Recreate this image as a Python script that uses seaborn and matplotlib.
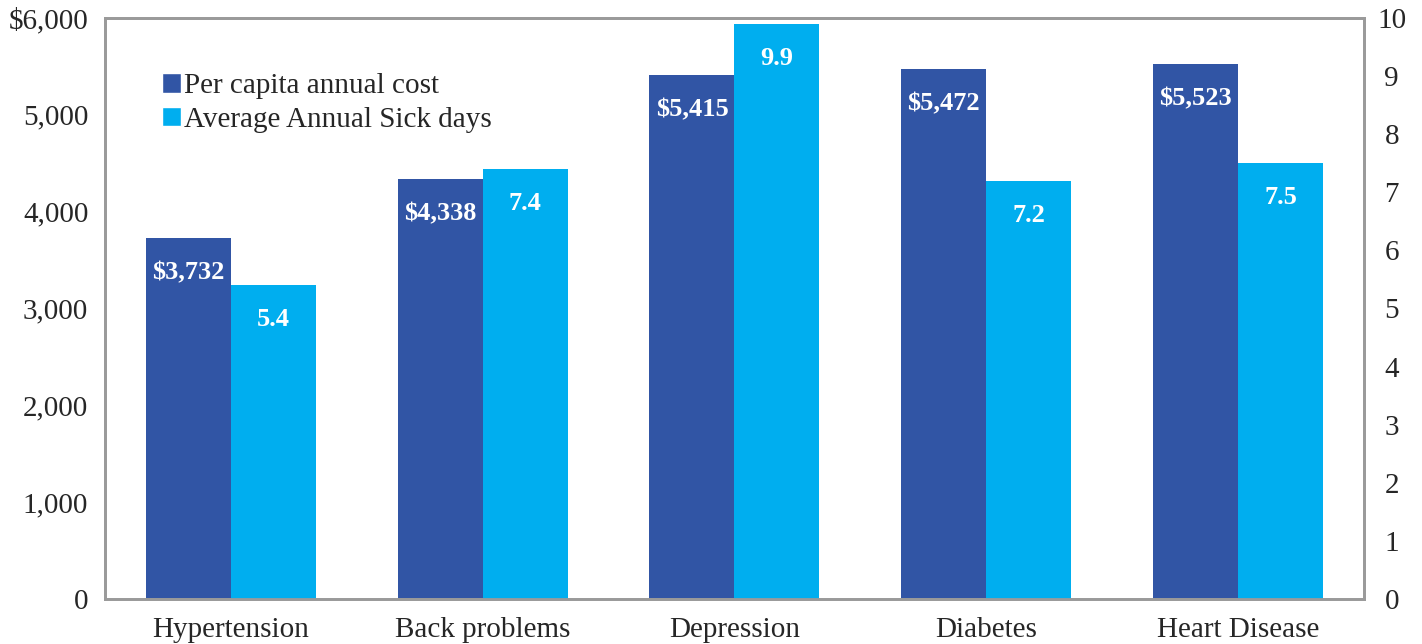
import matplotlib
matplotlib.use("Agg")
import matplotlib.pyplot as plt
from matplotlib.patches import Patch
from matplotlib.ticker import FuncFormatter
import pandas as pd
import seaborn as sns

conditions = ["Hypertension", "Back problems", "Depression", "Diabetes", "Heart Disease"]
annual_cost = [3732, 4338, 5415, 5472, 5523]
sick_days = [5.4, 7.4, 9.9, 7.2, 7.5]
series = ["Per capita annual cost", "Average Annual Sick days"]

DARK = "#3155A5"
LIGHT = "#00AEEF"
FRAME = "#9A9A9A"

sns.set_style("white")
plt.rcParams["font.family"] = ["Liberation Serif", "DejaVu Serif"]

cost_df = pd.DataFrame({"condition": conditions, "value": annual_cost, "series": series[0]})
days_df = pd.DataFrame({"condition": conditions, "value": sick_days, "series": series[1]})

fig = plt.figure(figsize=(14.22, 6.44), dpi=100)
ax = fig.add_axes([0.0738, 0.0699, 0.8854, 0.9022])
ax2 = ax.twinx()

palette = {series[0]: DARK, series[1]: LIGHT}
sns.barplot(data=cost_df, x="condition", y="value", hue="series", hue_order=series,
            order=conditions, palette=palette, width=0.675, saturation=1,
            dodge=True, legend=False, linewidth=0, ax=ax)
sns.barplot(data=days_df, x="condition", y="value", hue="series", hue_order=series,
            order=conditions, palette=palette, width=0.675, saturation=1,
            dodge=True, legend=False, linewidth=0, ax=ax2)

ax.set_ylim(0, 6000)
ax2.set_ylim(0, 10)
ax.set_xlim(-0.5, 4.5)
ax2.set_xlim(-0.5, 4.5)
ax.set_yticks(range(0, 6001, 1000))
ax2.set_yticks(range(0, 11))
ax.yaxis.set_major_formatter(FuncFormatter(lambda v, p: f"${v:,.0f}" if v == 6000 else f"{v:,.0f}"))

for a in (ax, ax2):
    a.set_xlabel("")
    a.set_ylabel("")
    for s in a.spines.values():
        s.set_visible(True)
        s.set_color(FRAME)
        s.set_linewidth(2)

ax.tick_params(axis="y", length=0, pad=12, labelsize=21)
ax.tick_params(axis="x", length=0, pad=13, labelsize=21)
ax2.tick_params(axis="y", length=0, pad=20, labelsize=21)
for t in ax2.get_yticklabels():
    t.set_horizontalalignment("center")

# value labels inside the bar tops
for a, fmt in ((ax, lambda v: f"${v:,.0f}"), (ax2, lambda v: f"{v:.1f}")):
    for bar in a.patches:
        h = bar.get_height()
        if h != h or h == 0:
            continue
        a.annotate(fmt(h), (bar.get_x() + bar.get_width() / 2, h),
                   xytext=(0, -25), textcoords="offset points",
                   ha="center", va="center", color="white",
                   fontsize=19, fontweight="bold")

handles = [Patch(facecolor=DARK, label=series[0]), Patch(facecolor=LIGHT, label=series[1])]
ax.legend(handles=handles, loc="upper left", bbox_to_anchor=(0.036, 0.925),
          frameon=False, fontsize=21, handlelength=0.65, handleheight=0.65,
          handletextpad=0.12, labelspacing=0.25, borderaxespad=0)

fig.savefig("out.png", dpi=100)
